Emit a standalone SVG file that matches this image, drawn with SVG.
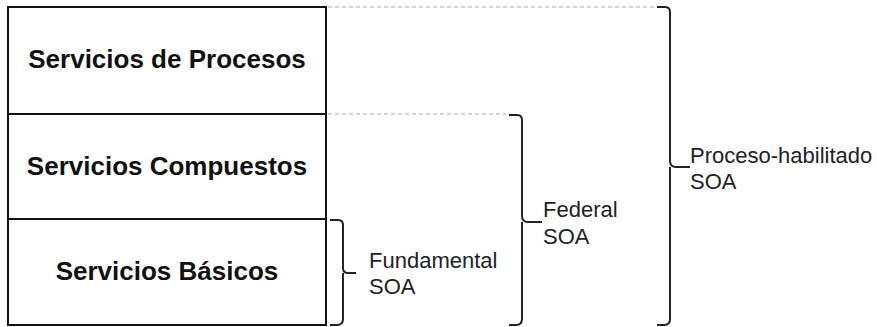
<svg xmlns="http://www.w3.org/2000/svg" width="877" height="327" viewBox="0 0 877 327">
<style>
.box{fill:#fff;stroke:#111;stroke-width:2}
.title{font-family:"Liberation Sans",Arial,sans-serif;font-weight:bold;font-size:26px;fill:#111;text-anchor:middle}
.lbl{font-family:"Liberation Sans",Arial,sans-serif;font-size:22px;fill:#222}
.br{fill:none;stroke:#222;stroke-width:2}
.dash{fill:none;stroke:#aaa;stroke-width:1.2;stroke-dasharray:4 3}
</style>
<rect width="877" height="327" fill="#fff"/>
<g id="procesos">
<rect class="box" x="8" y="7" width="318" height="107"/>
<text class="title" x="167" y="68">Servicios de Procesos</text>
</g>
<g id="compuestos">
<rect class="box" x="8" y="114" width="318" height="105"/>
<text class="title" x="167" y="175">Servicios Compuestos</text>
</g>
<g id="basicos">
<rect class="box" x="8" y="219" width="318" height="106"/>
<text class="title" x="167" y="280">Servicios Básicos</text>
</g>
<g id="connectors">
<path class="dash" d="M328 7 H656"/>
<path class="dash" d="M328 114 H506"/>
</g>
<g id="fundamental">
<path class="br" d="M330 220 H338 Q343 220 343 225 V268 Q343 273 348 273 H356 M343 273 Q343 278 343 282 V319 Q343 325 337 325 H330"/>
<text class="lbl" x="369" y="268">Fundamental</text>
<text class="lbl" x="369" y="294">SOA</text>
</g>
<g id="federal">
<path class="br" d="M509 115 H517 Q522 115 522 120 V216 Q522 222 528 222 H542 M522 222 Q522 228 522 230 V319 Q522 325 516 325 H509"/>
<text class="lbl" x="543" y="217">Federal</text>
<text class="lbl" x="543" y="244">SOA</text>
</g>
<g id="proceso-habilitado">
<path class="br" d="M657 7 H665 Q670 7 670 12 V161 Q670 167 676 167 H690 M670 167 Q670 173 670 175 V319 Q670 325 664 325 H657"/>
<text class="lbl" x="690" y="163">Proceso-habilitado</text>
<text class="lbl" x="690" y="189">SOA</text>
</g>
</svg>
